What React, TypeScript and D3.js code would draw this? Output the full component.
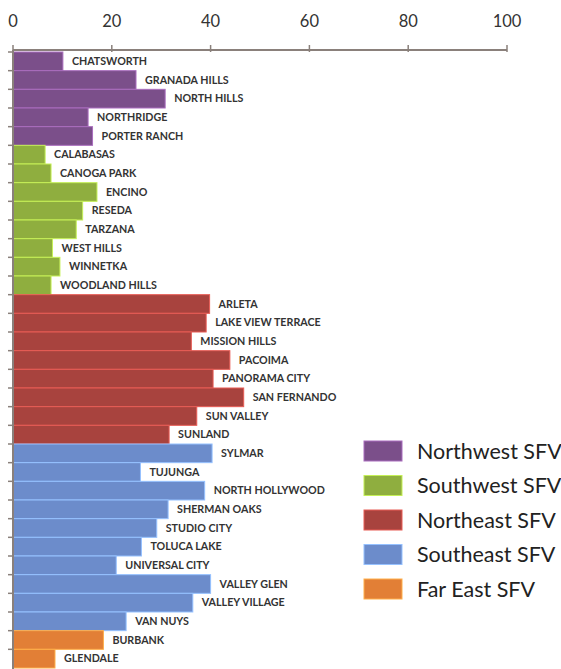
import React from "react";
import * as d3 from "d3";

const regions = ["Northwest SFV", "Southwest SFV", "Northeast SFV", "Southeast SFV", "Far East SFV"];
const regionColors = ["#7b4f8a", "#8fae3f", "#a8433e", "#6c8ccb", "#e27f36"];

const neighborhoods = [
  "CHATSWORTH", "GRANADA HILLS", "NORTH HILLS", "NORTHRIDGE", "PORTER RANCH",
  "CALABASAS", "CANOGA PARK", "ENCINO", "RESEDA", "TARZANA", "WEST HILLS", "WINNETKA", "WOODLAND HILLS",
  "ARLETA", "LAKE VIEW TERRACE", "MISSION HILLS", "PACOIMA", "PANORAMA CITY", "SAN FERNANDO", "SUN VALLEY", "SUNLAND",
  "SYLMAR", "TUJUNGA", "NORTH HOLLYWOOD", "SHERMAN OAKS", "STUDIO CITY", "TOLUCA LAKE", "UNIVERSAL CITY", "VALLEY GLEN", "VALLEY VILLAGE", "VAN NUYS",
  "BURBANK", "GLENDALE",
];
const neighborhoodRegion = [
  0, 0, 0, 0, 0,
  1, 1, 1, 1, 1, 1, 1, 1,
  2, 2, 2, 2, 2, 2, 2, 2,
  3, 3, 3, 3, 3, 3, 3, 3, 3, 3,
  4, 4,
];
const values = [
  10.1, 24.9, 30.8, 15.2, 16.1,
  6.5, 7.7, 17.0, 14.1, 12.8, 8.0, 9.5, 7.7,
  39.8, 39.1, 36.1, 43.9, 40.5, 46.7, 37.2, 31.6,
  40.3, 25.8, 38.8, 31.4, 29.1, 26.0, 20.9, 40.0, 36.4, 22.9,
  18.3, 8.5,
];
const xTicks = [0, 20, 40, 60, 80, 100];

export default function App() {
  const W = 561, H = 669;
  const x = d3.scaleLinear().domain([0, 100]).range([13, 507]);
  const y = d3.scaleBand<string>().domain(neighborhoods).range([52, 668]).padding(0);
  const axisColor = "#8a807b";
  const font = "Lato, 'Open Sans', sans-serif";
  return (
    <svg width={W} height={H} style={{ position: "absolute", left: 0, top: 0, background: "#fff" }}>
      {xTicks.map((t) => (
        <text key={"tl" + t} x={x(t)} y={27} textAnchor="middle" fontFamily={font} fontSize={16.5} fill="#333">
          {t}
        </text>
      ))}
      {neighborhoods.map((n, i) => {
        const c = regionColors[neighborhoodRegion[i]];
        const y0 = y(n)!;
        return (
          <g key={n}>
            <rect x={x(0)} y={y0} width={x(values[i]) - x(0)} height={y.bandwidth()} fill={c}
              stroke={d3.color(c)!.brighter(0.9).formatHex()} strokeWidth={1} />
            <text x={x(values[i]) + 9} y={y0 + y.bandwidth() / 2} dy="0.35em" fontFamily={font}
              fontWeight={700} fontSize={10.7} fill="#333">
              {n}
            </text>
          </g>
        );
      })}
      <line x1={x(0)} x2={x(100)} y1={50} y2={50} stroke={axisColor} strokeWidth={2} />
      {xTicks.map((t) => (
        <line key={"tk" + t} x1={x(t)} x2={x(t)} y1={45} y2={52} stroke={axisColor} strokeWidth={1.5} />
      ))}
      <line x1={x(0)} x2={x(0)} y1={50} y2={669} stroke={axisColor} strokeWidth={2} />
      {neighborhoods.map((n) => (
        <line key={"yt" + n} x1={8} x2={x(0)} y1={y(n)!} y2={y(n)!} stroke={axisColor} strokeWidth={1.5} />
      ))}
      {regions.map((r, i) => (
        <g key={r} transform={`translate(364, ${441 + i * 34.5})`}>
          <rect x={0} y={0} width={38} height={20} fill={regionColors[i]}
            stroke={d3.color(regionColors[i])!.brighter(0.9).formatHex()} strokeWidth={1} />
          <text x={53} y={10} dy="0.36em" fontFamily={font} fontSize={21.5} fill="#222">
            {r}
          </text>
        </g>
      ))}
    </svg>
  );
}
